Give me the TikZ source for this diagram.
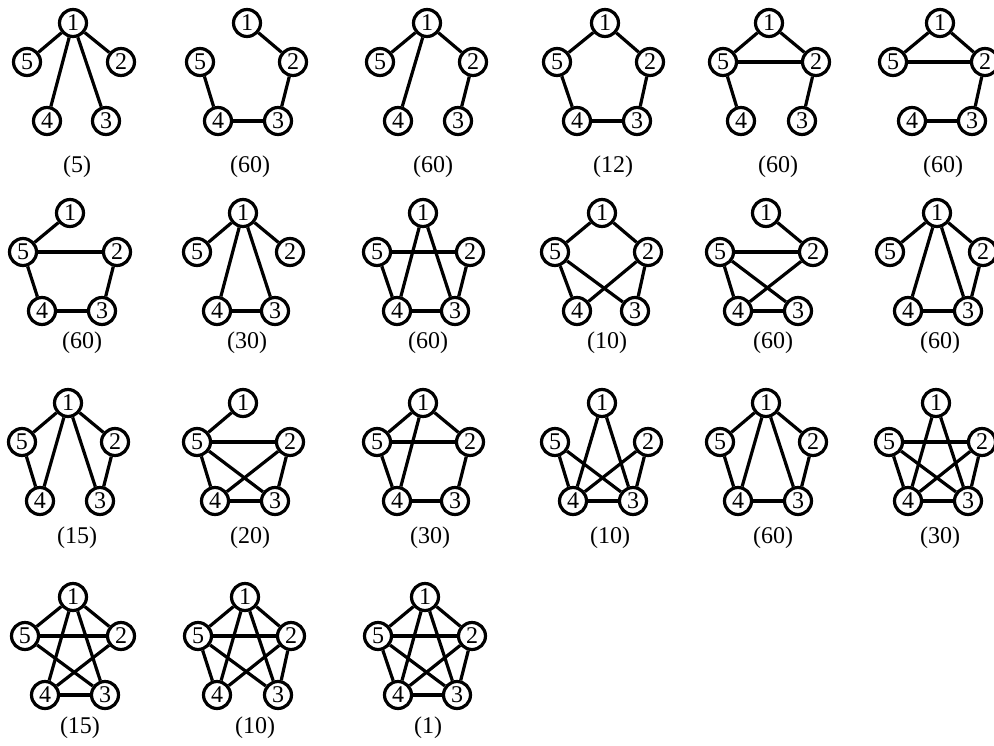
\documentclass[tikz,border=0pt]{standalone}
\usepackage{fontspec}
\setmainfont{Liberation Serif}
\begin{document}
\begin{tikzpicture}[x=1pt,y=-1pt,
  vtx/.style={circle,draw,line width=3.2pt,minimum size=27pt,inner sep=0pt,fill=white,
    font=\fontsize{24}{26}\selectfont},
  edge/.style={line width=3.2pt},
  lbl/.style={inner sep=0pt,font=\fontsize{24}{26}\selectfont}]
\clip (0,0) rectangle (994,745);
\fill[white] (0,0) rectangle (994,745);
% #1 id, #2 x1, #3 y1, #4 x5, #5 x2, #6 x4, #7 x3, #8 label x, #9 label y
\newcommand\gph[9]{%
  \node[vtx] (#1n1) at (#2,#3) {1};
  \node[vtx] (#1n5) at (#4,#3+39) {5};
  \node[vtx] (#1n2) at (#5,#3+39) {2};
  \node[vtx] (#1n4) at (#6,#3+98) {4};
  \node[vtx] (#1n3) at (#7,#3+98) {3};
  \node[lbl] (#1l) at (#8,#9) {};
}
\newcommand\gedges[2]{%
  \foreach \a/\b in {#2} {\draw[edge] (#1n\a) -- (#1n\b);}
}
% Row 1
\gph{a}{73}{23}{27}{121}{47}{106}{77}{167}
\node[lbl] at (al) {(5)};
\gedges{a}{1/5,1/2,1/4,1/3}
\gph{b}{247}{23}{200}{293}{218}{278}{250}{167}
\node[lbl] at (bl) {(60)};
\gedges{b}{1/2,2/3,3/4,4/5}
\gph{c}{427}{23}{380}{473}{398}{458}{433}{167}
\node[lbl] at (cl) {(60)};
\gedges{c}{1/5,1/4,1/2,2/3}
\gph{d}{605}{23}{557}{650}{577}{637}{613}{167}
\node[lbl] at (dl) {(12)};
\gedges{d}{1/2,2/3,3/4,4/5,5/1}
\gph{e}{769}{23}{723}{816}{741}{802}{778}{167}
\node[lbl] at (el) {(60)};
\gedges{e}{1/5,1/2,5/2,5/4,2/3}
\gph{f}{940}{23}{893}{985}{912}{972}{943}{167}
\node[lbl] at (fl) {(60)};
\gedges{f}{1/5,1/2,5/2,2/3,3/4}
% Row 2
\gph{g}{70}{213}{23}{117}{42}{102}{82}{343}
\node[lbl] at (gl) {(60)};
\gedges{g}{1/5,5/2,2/3,3/4,4/5}
\gph{h}{243}{213}{197}{290}{217}{275}{247}{343}
\node[lbl] at (hl) {(30)};
\gedges{h}{1/5,1/2,1/4,1/3,4/3}
\gph{i}{423}{213}{377}{470}{397}{455}{428}{343}
\node[lbl] at (il) {(60)};
\gedges{i}{1/4,1/3,5/2,5/4,2/3,4/3}
\gph{j}{602}{213}{555}{648}{577}{635}{607}{343}
\node[lbl] at (jl) {(10)};
\gedges{j}{1/5,1/2,5/4,5/3,2/4,2/3}
\gph{k}{766}{213}{720}{813}{738}{798}{773}{343}
\node[lbl] at (kl) {(60)};
\gedges{k}{1/2,5/2,5/4,5/3,2/4,4/3}
\gph{m}{937}{213}{890}{983}{908}{968}{940}{343}
\node[lbl] at (ml) {(60)};
\gedges{m}{1/5,1/2,1/4,1/3,2/3,4/3}
% Row 3
\gph{n}{68}{403}{22}{115}{40}{100}{77}{538}
\node[lbl] at (nl) {(15)};
\gedges{n}{1/5,1/2,1/4,1/3,5/4,2/3}
\gph{o}{243}{403}{197}{290}{215}{275}{250}{538}
\node[lbl] at (ol) {(20)};
\gedges{o}{1/5,5/2,5/4,5/3,2/4,2/3,4/3}
\gph{p}{423}{403}{377}{470}{397}{455}{430}{538}
\node[lbl] at (pl) {(30)};
\gedges{p}{1/5,1/2,1/4,5/2,5/4,2/3,4/3}
\gph{q}{602}{403}{555}{648}{573}{633}{610}{538}
\node[lbl] at (ql) {(10)};
\gedges{q}{1/4,1/3,5/4,5/3,2/4,2/3,4/3}
\gph{r}{766}{403}{720}{813}{738}{798}{773}{538}
\node[lbl] at (rl) {(60)};
\gedges{r}{1/5,1/2,1/4,1/3,5/4,2/3,4/3}
\gph{s}{936}{403}{889}{982}{908}{968}{940}{538}
\node[lbl] at (sl) {(30)};
\gedges{s}{1/4,1/3,5/2,5/4,5/3,2/4,2/3,4/3}
% Row 4
\gph{t}{73}{597}{25}{121}{45}{105}{80}{728}
\node[lbl] at (tl) {(15)};
\gedges{t}{1/5,1/2,1/4,1/3,5/2,5/3,2/4,4/3}
\gph{u}{245}{597}{198}{291}{217}{278}{255}{728}
\node[lbl] at (ul) {(10)};
\gedges{u}{1/5,1/2,1/4,1/3,5/2,5/4,5/3,2/4,2/3}
\gph{v}{425}{597}{378}{472}{398}{457}{428}{728}
\node[lbl] at (vl) {(1)};
\gedges{v}{1/5,1/2,1/4,1/3,5/2,5/4,5/3,2/4,2/3,4/3}
\end{tikzpicture}
\end{document}
